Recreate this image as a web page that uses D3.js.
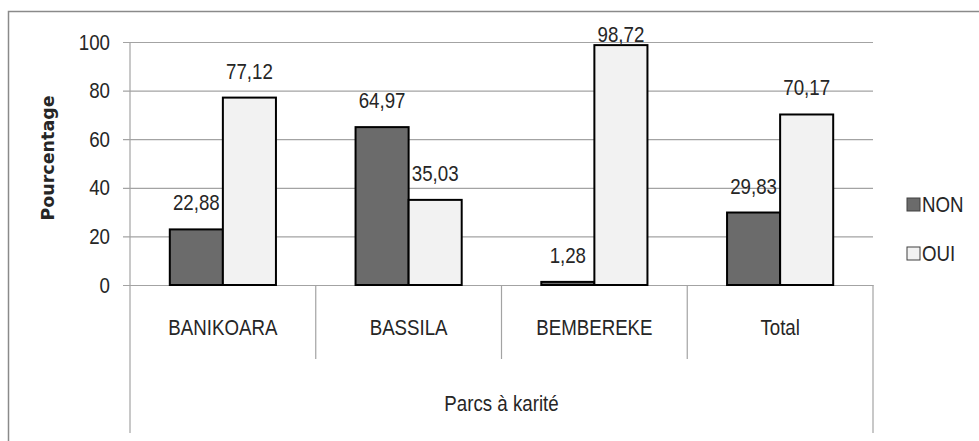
<!DOCTYPE html>
<html>
<head>
<meta charset="utf-8">
<script src="https://cdn.jsdelivr.net/npm/d3@7"></script>
<style>
  body { margin: 0; background: #fff; }
  svg text { font-family: "Liberation Sans", Arial, sans-serif; fill: #262626; }
</style>
</head>
<body>
<div id="chart"></div>
<script>
const categories = ["BANIKOARA", "BASSILA", "BEMBEREKE", "Total"];
const series = ["NON", "OUI"];
const nonValues = [22.88, 64.97, 1.28, 29.83];
const ouiValues = [77.12, 35.03, 98.72, 70.17];
const yTicks = [0, 20, 40, 60, 80, 100];
const xTitle = "Parcs à karité";
const yTitle = "Pourcentage";

const width = 979,
  height = 441,
  margin = { top: 42, left: 130, right: 106, bottom: 156 },
  colors = { NON: "#6b6b6b", OUI: "#f2f2f2" },
  gridColor = "#a3a3a3",
  fontSize = "22px",
  squeeze = 0.85;

const plotBottom = height - margin.bottom;
const rows = categories.map((c, i) => ({ category: c, NON: nonValues[i], OUI: ouiValues[i] }));

// the source font is a narrow one, so squeeze the text horizontally
function condense(sel) {
  sel.each(function() {
    const t = d3.select(this);
    const x = +t.attr("x") || 0;
    t.attr("x", x / squeeze).attr("transform", `scale(${squeeze},1)`);
  });
}

const svg = d3.select("#chart")
  .append("svg")
  .attr("width", width)
  .attr("height", height);

// outer chart border (runs off the picture right and bottom)
svg.append("rect")
  .attr("x", 8.5)
  .attr("y", 11.5)
  .attr("width", 1000)
  .attr("height", 1000)
  .attr("fill", "none")
  .attr("stroke", "#8a8a8a")
  .attr("stroke-width", 1.5);

const x0 = d3.scaleBand()
  .domain(categories)
  .range([margin.left, width - margin.right])
  .padding(0);

const x1 = d3.scaleBand()
  .domain(series)
  .range([0, x0.bandwidth()])
  .paddingInner(0)
  .paddingOuter(0.75);

const y = d3.scaleLinear()
  .domain([0, 100])
  .range([plotBottom, margin.top]);

// y axis + gridlines
const yAxis = d3.axisLeft(y)
  .tickValues(yTicks)
  .tickSize(-(width - margin.right - margin.left + 7))
  .tickPadding(13)
  .tickFormat(d3.format("d"));

svg.append("g")
  .attr("class", "y-axis")
  .attr("transform", `translate(${margin.left - 7},0)`)
  .call(yAxis)
  .call(g => g.select(".domain").remove())
  .call(g => g.selectAll(".tick line").attr("stroke", gridColor).attr("stroke-width", 1.2))
  .call(g => g.selectAll(".tick text").style("font-size", fontSize).attr("fill", "#262626").call(condense));

// category axis
const xAxis = d3.axisBottom(x0).tickSize(0).tickPadding(34);

svg.append("g")
  .attr("class", "x-axis")
  .attr("transform", `translate(0,${plotBottom})`)
  .call(xAxis)
  .call(g => g.select(".domain").attr("stroke", gridColor).attr("stroke-width", 1.2))
  .call(g => g.selectAll(".tick text").style("font-size", fontSize).attr("fill", "#262626").call(condense));

// vertical lines of the category table
const edges = categories.map(c => x0(c)).concat([width - margin.right]);
svg.append("g")
  .selectAll("line")
  .data(edges)
  .join("line")
  .attr("x1", d => d)
  .attr("x2", d => d)
  .attr("y1", (d, i) => i === 0 ? margin.top : plotBottom)
  .attr("y2", (d, i) => (i === 0 || i === edges.length - 1) ? height - 8 : plotBottom + 74)
  .attr("stroke", gridColor)
  .attr("stroke-width", 1.2);

// bars
const groups = svg.append("g")
  .selectAll("g")
  .data(rows)
  .join("g")
  .attr("transform", d => `translate(${x0(d.category)},0)`);

groups.selectAll("rect")
  .data(d => series.map(s => ({ key: s, value: d[s] })))
  .join("rect")
  .attr("x", d => x1(d.key))
  .attr("y", d => y(d.value))
  .attr("width", x1.bandwidth())
  .attr("height", d => y(0) - y(d.value))
  .attr("fill", d => colors[d.key])
  .attr("stroke", "#000")
  .attr("stroke-width", 2);

groups.selectAll("text")
  .data(d => series.map(s => ({ key: s, value: d[s] })))
  .join("text")
  .attr("x", d => x1(d.key) + x1.bandwidth() / 2)
  .attr("y", d => Math.max(y(d.value) - 19, y(100)))
  .attr("text-anchor", "middle")
  .style("font-size", fontSize)
  .text(d => d3.format(".2f")(d.value).replace(".", ","))
  .call(condense);

// axis titles
svg.append("text")
  .attr("x", (margin.left + width - margin.right) / 2)
  .attr("y", 411)
  .attr("text-anchor", "middle")
  .style("font-size", fontSize)
  .text(xTitle)
  .call(condense);

svg.append("text")
  .attr("transform", "translate(54,158) rotate(-90)")
  .attr("text-anchor", "middle")
  .style("font-family", "'DejaVu Sans', sans-serif")
  .style("font-weight", "bold")
  .style("font-size", "17.5px")
  .text(yTitle);

// legend
const legend = svg.append("g")
  .selectAll("g")
  .data(series)
  .join("g")
  .attr("transform", (d, i) => `translate(907,${198 + i * 49})`);

legend.append("rect")
  .attr("width", 13)
  .attr("height", 13)
  .attr("fill", d => colors[d])
  .attr("stroke", "#404040")
  .attr("stroke-width", 1);

legend.append("text")
  .attr("x", 15)
  .attr("y", 14)
  .style("font-size", fontSize)
  .text(d => d)
  .call(condense);
</script>
</body>
</html>
